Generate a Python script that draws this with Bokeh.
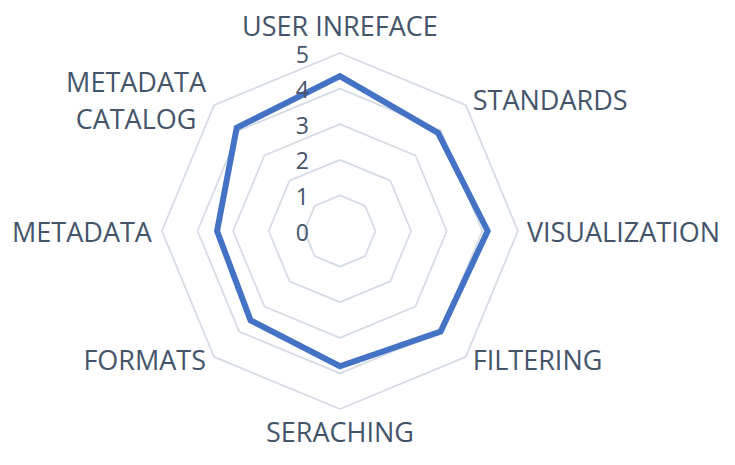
import numpy as np
from bokeh.plotting import figure
from bokeh.models import Range1d, ColumnDataSource
from bokeh.embed import file_html
from bokeh.resources import INLINE
from bokeh.core.properties import value

# ---- data ----
categories = ["USER INREFACE", "STANDARDS", "VISUALIZATION", "FILTERING",
              "SERACHING", "FORMATS", "METADATA", "METADATA\nCATALOG"]
scores = [4.35, 3.9, 4.15, 4.0, 3.8, 3.55, 3.45, 4.1]
tick_values = [0, 1, 2, 3, 4, 5]
tick_labels = ["0", "1", "2", "3", "4", "5"]
grid_levels = [1, 2, 3, 4, 5]

# ---- layout / style ----
label_align = ["center", "left", "left", "left", "center", "right", "right", "center"]
label_dx = [0, 7, 9, 7, 0, -8, -10, -78]
label_dy = [-27.5, -6, 0, 3, 22, 3, 0, -5]

W, H = 719, 449
cx_px, cy_px = 339.4, 230.5
unit = 35.6
FONT = "Open Sans"
TEXT_COLOR = "#44546A"
GRID_COLOR = "#D6DCE5"
LINE_COLOR = "#4472C4"

n = len(categories)
theta = np.pi / 2 - np.arange(n) * 2 * np.pi / n
cos_t, sin_t = np.cos(theta), np.sin(theta)

p = figure(width=W, height=H, output_backend="svg", toolbar_location=None,
           x_range=Range1d(-cx_px / unit, (W - cx_px) / unit),
           y_range=Range1d(-(H - cy_px) / unit, cy_px / unit),
           x_axis_location=None, y_axis_location=None, min_border=0)
p.grid.visible = False
p.outline_line_color = None
p.background_fill_color = "white"
p.border_fill_color = "white"

# grid rings
xs = [list(lv * cos_t) for lv in grid_levels]
ys = [list(lv * sin_t) for lv in grid_levels]
p.patches(xs, ys, fill_color=None, line_color=GRID_COLOR, line_width=1.8)

# data polygon
sc = np.array(scores)
p.patch(list(sc * cos_t), list(sc * sin_t), fill_color=None,
        line_color=LINE_COLOR, line_width=6, line_join="miter")

# category labels
rmax = max(tick_values)
lab_src = ColumnDataSource(dict(x=list(rmax * cos_t), y=list(rmax * sin_t),
                                text=categories, align=label_align,
                                dx=label_dx, dy=label_dy))
p.text(x="x", y="y", text="text", source=lab_src, text_align="align",
       x_offset="dx", y_offset="dy", text_baseline="middle",
       text_font=value(FONT), text_font_size="27px", text_color=TEXT_COLOR,
       text_line_height=1.0)

# tick labels
tick_src = ColumnDataSource(dict(x=[0] * len(tick_values), y=tick_values, text=tick_labels))
p.text(x="x", y="y", text="text", source=tick_src, text_align="right",
       x_offset=-31, y_offset=1, text_baseline="middle",
       text_font=value(FONT), text_font_size="23px", text_color=TEXT_COLOR)

open("out.html", "w").write(file_html(p, INLINE))
